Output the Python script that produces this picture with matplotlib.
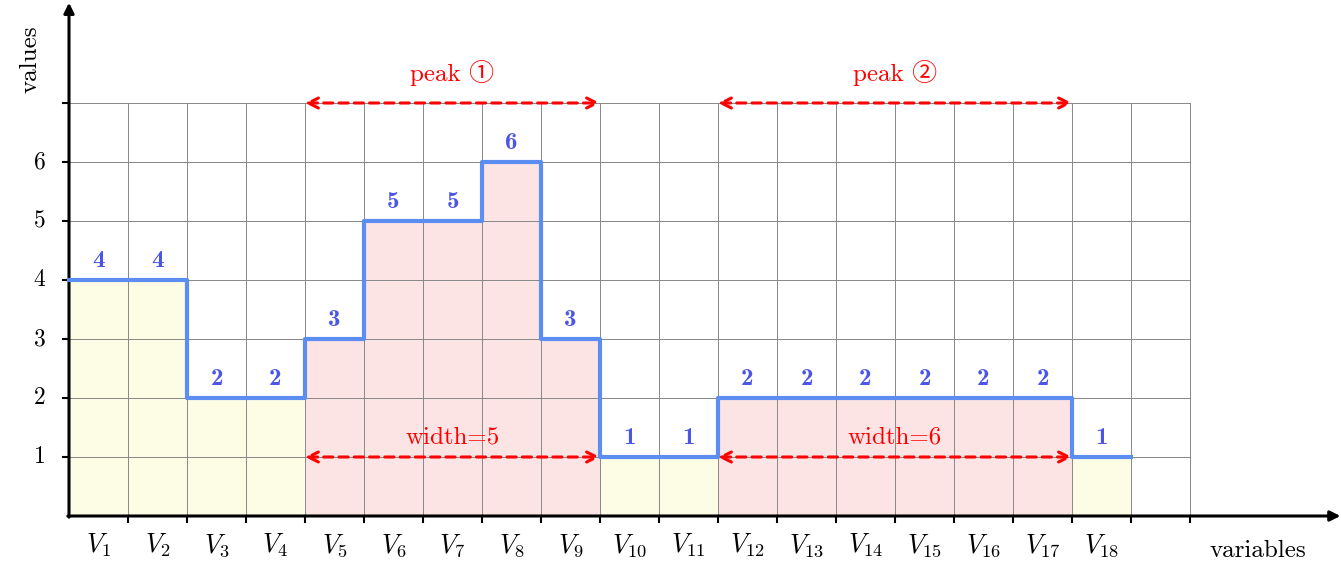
import numpy as np
import matplotlib
matplotlib.use("Agg")
import matplotlib.pyplot as plt

plt.rcParams["mathtext.fontset"] = "cm"

values = [4, 4, 2, 2, 3, 5, 5, 6, 3, 1, 1, 2, 2, 2, 2, 2, 2, 1]
var_labels = [rf"$V_{{{i}}}$" for i in range(1, 19)]
peaks = [(4, 9, "peak \u2460", "width=5"), (11, 17, "peak \u2461", "width=6")]
y_ticks = [1, 2, 3, 4, 5, 6]

YELLOW = "#fdfde6"
PINK = "#fde4e4"
LINE = "#5b8ef0"
NUM = "#4b55e6"
RED = "red"
SERIF = ["cmr10", "Noto Sans CJK SC", "DejaVu Sans"]

fig = plt.figure(figsize=(13.41, 5.76), dpi=100)
ax = fig.add_axes([0, 0, 1, 1])
ax.set_xlim(-69 / 59, (1341 - 69) / 59)
ax.set_ylim(-(576 - 516) / 59, 516 / 59)
ax.axis("off")

n = len(values)
xs = np.arange(n)
in_peak = np.zeros(n, bool)
for a, b, _, _ in peaks:
    in_peak[a:b] = True
colors = [PINK if p else YELLOW for p in in_peak]
ax.bar(xs, values, width=1, align="edge", color=colors, linewidth=0, zorder=1)

# grid
for gx in range(1, 20):
    ax.plot([gx, gx], [0, 7], color="#888888", lw=0.7, zorder=2)
for gy in range(1, 8):
    ax.plot([0, 19], [gy, gy], color="#888888", lw=0.7, zorder=2)

# step line
ax.step(np.append(xs, n), np.append(values, values[-1]), where="post",
        color=LINE, lw=3, zorder=4)

for i, v in enumerate(values):
    ax.text(i + 0.5, v + 0.32, str(v), color=NUM, fontfamily="cmb10",
            fontsize=18, ha="center", va="center", zorder=5)

# peaks
for a, b, name, wtxt in peaks:
    for yy in (7, 1):
        ax.annotate("", xy=(b, yy), xytext=(a, yy), zorder=6,
                    arrowprops=dict(arrowstyle="<->", color=RED, lw=2.2,
                                    linestyle=(0, (3, 2)), shrinkA=0, shrinkB=0,
                                    mutation_scale=18))
    ax.text((a + b) / 2, 7.5, name, color=RED, fontfamily=SERIF,
            fontsize=18, ha="center", va="center")
    ax.text((a + b) / 2, 1.33, wtxt, color=RED, fontfamily=SERIF,
            fontsize=18, ha="center", va="center")

# axes
ax.annotate("", xy=(21.55, 0), xytext=(-0.02, 0),
            arrowprops=dict(arrowstyle="-|>", color="black", lw=2.2,
                            shrinkA=0, shrinkB=0, mutation_scale=15))
ax.annotate("", xy=(0, 8.7), xytext=(0, -0.02),
            arrowprops=dict(arrowstyle="-|>", color="black", lw=2.2,
                            shrinkA=0, shrinkB=0, mutation_scale=15))
for gx in range(1, 20):
    ax.plot([gx, gx], [0, -0.1], color="black", lw=1.5)
for gy in range(1, 8):
    ax.plot([0, -0.1], [gy, gy], color="black", lw=1.5)
for t in y_ticks:
    ax.text(-0.5, t, str(t), fontfamily=SERIF, fontsize=17,
            ha="center", va="center")
for i, lab in enumerate(var_labels):
    ax.text(i + 0.5, -0.5, lab, fontsize=19, ha="center", va="center")

ax.text(-0.66, 7.75, "values", fontfamily=SERIF, fontsize=18, rotation=90,
        ha="center", va="center")
ax.text(20.15, -0.6, "variables", fontfamily=SERIF, fontsize=18,
        ha="center", va="center")

fig.savefig("out.png", dpi=100)
